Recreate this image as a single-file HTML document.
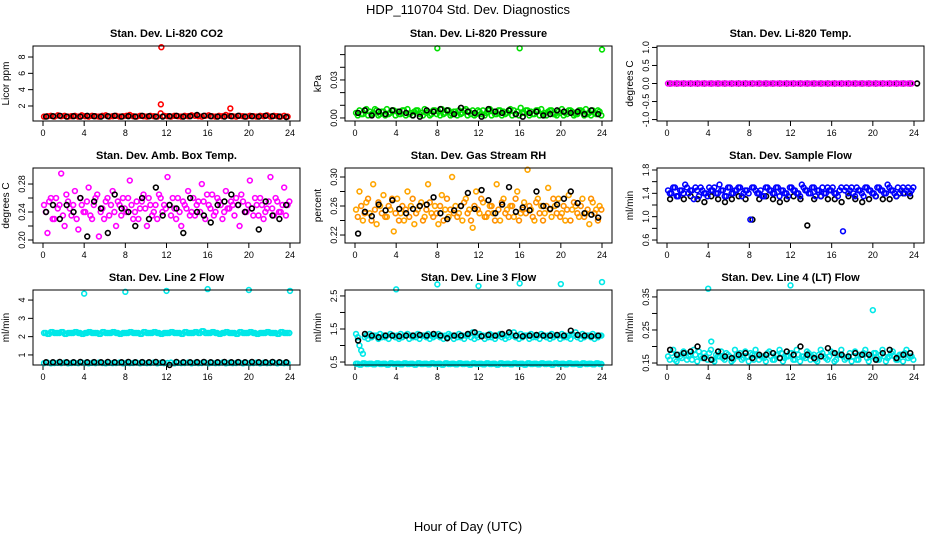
<!DOCTYPE html>
<html><head><meta charset="utf-8"><style>
html,body{margin:0;padding:0;background:#fff}
svg{display:block;font-family:"Liberation Sans",sans-serif}
</style></head><body>
<svg id="c" width="936" height="540" xmlns="http://www.w3.org/2000/svg">
<text x="468" y="14" text-anchor="middle" font-size="13">HDP_110704  Std. Dev. Diagnostics</text>
<text x="468" y="531" text-anchor="middle" font-size="13">Hour of Day (UTC)</text>
</svg>
<script>
const co2Color = [0.7,0.75,0.8,0.7,0.85,0.75,0.8,0.7,0.75,0.8,0.7,0.85,0.75,0.7,0.8,0.75,0.7,0.8,0.85,0.7,0.75,0.8,0.7,0.75,0.8,0.9,0.75,0.7,0.8,0.75,0.7,0.8,0.75,0.7,1.1,0.8,0.75,0.7,0.8,0.75,0.7,0.8,0.75,0.85,0.8,0.75,0.7,0.8,0.85,0.75,0.7,0.8,0.75,0.9,0.8,0.75,0.7,0.8,0.75,0.7,0.8,0.75,0.7,0.8,0.75,0.85,0.7,0.8,0.75,0.7,0.8,0.7];
const co2Black = [0.7,0.75,0.8,0.7,0.75,0.7,0.8,0.75,0.7,0.75,0.8,0.7,0.75,0.7,0.8,0.75,0.7,0.7,0.75,0.8,0.7,0.75,0.9,0.8,0.75,0.7,0.7,0.75,0.8,0.7,0.75,0.7,0.8,0.75,0.7,0.65];
const co2OutX = [11.5,11.45,18.2];
const co2OutY = [9.2,2.2,1.7];
const presColor = [0.004,0.006,0.003,0.007,0.005,0.004,0.006,0.003,0.005,0.007,0.004,0.006,0.005,0.003,0.006,0.007,0.004,0.005,0.006,0.004,0.007,0.005,0.003,0.006,0.005,0.007,0.004,0.006,0.003,0.005,0.006,0.004,0.007,0.005,0.006,0.003,0.005,0.006,0.004,0.007,0.005,0.003,0.006,0.005,0.004,0.007,0.006,0.005,0.008,0.004,0.006,0.005,0.003,0.006,0.007,0.004,0.005,0.006,0.003,0.005,0.007,0.004,0.006,0.005,0.003,0.006,0.005,0.007,0.004,0.006,0.003,0.005];
const presColor2 = [0.002,0.003,0.006,0.002,0.003,0.007,0.002,0.005,0.002,0.003,0.006,0.002,0.003,0.006,0.002,0.003,0.002,0.006,0.003,0.002,0.004,0.002,0.006,0.003,0.002,0.003,0.006,0.002,0.005,0.002,0.003,0.006,0.002,0.003,0.002,0.006,0.003,0.002,0.006,0.002,0.003,0.006,0.002,0.003,0.006,0.002,0.003,0.002,0.004,0.006,0.002,0.003,0.006,0.002,0.003,0.002,0.006,0.003,0.002,0.004,0.002,0.003,0.006,0.002,0.003,0.006,0.002,0.003,0.002,0.004,0.006,0.002];
const presBlack = [0.004,0.006,0.002,0.005,0.003,0.006,0.005,0.004,0.002,0.001,0.006,0.005,0.007,0.006,0.003,0.008,0.005,0.004,0.001,0.007,0.005,0.004,0.006,0.003,0.001,0.004,0.005,0.002,0.003,0.006,0.005,0.004,0.005,0.003,0.006,0.003];
const presOutX = [8,16,24];
const presOutY = [0.055,0.055,0.054];
const tempColor = [0,0,0,0,0,0,0,0,0,0,0,0,0,0,0,0,0,0,0,0,0,0,0,0,0,0,0,0,0,0,0,0,0,0,0,0,0,0,0,0,0,0,0,0,0,0,0,0,0,0,0,0,0,0,0,0,0,0,0,0,0,0,0,0,0,0,0,0,0,0,0,0];
const tempBlack = [0,0,0,0,0,0,0,0,0,0,0,0,0,0,0,0,0,0,0,0,0,0,0,0,0,0,0,0,0,0,0,0,0,0,0,0,0];
const boxColor = [0.25,0.21,0.26,0.23,0.245,0.295,0.22,0.255,0.235,0.27,0.215,0.25,0.24,0.275,0.23,0.26,0.205,0.245,0.255,0.235,0.27,0.22,0.25,0.26,0.24,0.285,0.23,0.255,0.245,0.265,0.22,0.25,0.24,0.23,0.26,0.25,0.29,0.235,0.245,0.26,0.22,0.25,0.27,0.24,0.235,0.255,0.28,0.23,0.25,0.265,0.24,0.255,0.23,0.27,0.245,0.25,0.26,0.22,0.255,0.24,0.285,0.235,0.25,0.26,0.23,0.245,0.29,0.235,0.255,0.24,0.275,0.25];
const boxColor2 = [0.24,0.255,0.23,0.26,0.25,0.235,0.265,0.245,0.25,0.23,0.26,0.24,0.255,0.235,0.25,0.265,0.24,0.23,0.26,0.25,0.24,0.255,0.235,0.245,0.26,0.25,0.24,0.23,0.255,0.245,0.26,0.235,0.25,0.265,0.24,0.245,0.25,0.26,0.23,0.24,0.255,0.245,0.235,0.26,0.25,0.24,0.255,0.265,0.245,0.235,0.26,0.25,0.24,0.245,0.255,0.235,0.25,0.265,0.24,0.25,0.245,0.26,0.235,0.25,0.24,0.255,0.245,0.26,0.24,0.25,0.235,0.255];
const boxBlack = [0.24,0.25,0.23,0.25,0.24,0.26,0.205,0.255,0.245,0.21,0.265,0.245,0.24,0.22,0.26,0.23,0.275,0.235,0.25,0.245,0.21,0.26,0.24,0.235,0.225,0.25,0.255,0.265,0.25,0.24,0.245,0.215,0.255,0.235,0.23,0.25];
const rhColor = [0.255,0.28,0.24,0.265,0.25,0.29,0.235,0.26,0.275,0.245,0.255,0.225,0.27,0.25,0.24,0.28,0.26,0.235,0.255,0.265,0.245,0.29,0.25,0.26,0.235,0.275,0.255,0.245,0.3,0.26,0.25,0.24,0.27,0.255,0.23,0.28,0.25,0.265,0.245,0.26,0.25,0.29,0.24,0.27,0.255,0.26,0.245,0.28,0.25,0.265,0.31,0.255,0.24,0.27,0.26,0.25,0.285,0.245,0.26,0.27,0.25,0.24,0.275,0.255,0.26,0.245,0.27,0.25,0.235,0.265,0.255,0.26];
const rhColor2 = [0.245,0.26,0.25,0.27,0.24,0.255,0.265,0.25,0.245,0.26,0.27,0.25,0.24,0.26,0.255,0.245,0.27,0.25,0.26,0.24,0.255,0.265,0.245,0.25,0.26,0.24,0.27,0.255,0.25,0.245,0.26,0.265,0.25,0.24,0.26,0.255,0.27,0.245,0.25,0.26,0.24,0.255,0.265,0.25,0.245,0.26,0.27,0.24,0.255,0.25,0.26,0.245,0.265,0.25,0.24,0.26,0.255,0.27,0.25,0.245,0.26,0.255,0.24,0.265,0.25,0.26,0.245,0.255,0.27,0.25,0.24,0.255];
const rhBlack = [0.222,0.252,0.246,0.262,0.254,0.268,0.256,0.25,0.256,0.26,0.262,0.272,0.25,0.242,0.254,0.26,0.278,0.256,0.282,0.268,0.25,0.262,0.286,0.252,0.258,0.254,0.28,0.26,0.256,0.262,0.27,0.28,0.264,0.25,0.248,0.244];
const flowColor = [1.45,1.4,1.5,1.35,1.45,1.55,1.4,1.45,1.5,1.35,1.45,1.4,1.5,1.45,1.4,1.55,1.45,1.35,1.5,1.4,1.45,1.5,1.4,1.45,0.95,1.5,1.4,1.45,1.35,1.5,1.45,1.4,1.5,1.45,1.4,1.35,1.5,1.45,1.4,1.55,1.45,1.4,1.5,1.35,1.45,1.5,1.4,1.45,1.5,1.4,1.45,0.75,1.5,1.45,1.4,1.5,1.45,1.35,1.5,1.45,1.4,1.5,1.45,1.4,1.55,1.45,1.4,1.5,1.45,1.4,1.5,1.45];
const flowColor2 = [1.4,1.5,1.35,1.45,1.4,1.5,1.45,1.3,1.45,1.5,1.4,1.35,1.45,1.5,1.4,1.45,1.35,1.5,1.4,1.45,1.5,1.35,1.45,1.4,1.5,1.45,1.4,1.35,1.5,1.45,1.4,1.5,1.35,1.45,1.4,1.5,1.45,1.4,1.35,1.5,1.45,1.4,1.5,1.45,1.35,1.4,1.5,1.45,1.4,1.35,1.5,1.45,1.4,1.5,1.35,1.45,1.4,1.5,1.45,1.4,1.35,1.5,1.45,1.4,1.5,1.45,1.35,1.4,1.5,1.45,1.4,1.5];
const flowBlack = [1.3,1.35,1.3,1.35,1.3,1.25,1.35,1.3,1.25,1.3,1.35,1.3,0.95,1.3,1.35,1.3,1.25,1.3,1.35,1.3,0.85,1.3,1.35,1.3,1.3,1.25,1.35,1.3,1.25,1.3,1.35,1.3,1.3,1.35,1.4,1.35];
const l2Upper = [2.2,2.15,2.25,2.2,2.2,2.25,2.15,2.2,2.2,2.25,2.2,2.15,2.2,2.25,2.2,2.2,2.15,2.25,2.2,2.2,2.25,2.2,2.15,2.2,2.2,2.25,2.2,2.2,2.15,2.25,2.2,2.2,2.25,2.2,2.15,2.2,2.2,2.25,2.2,2.2,2.15,2.25,2.2,2.2,2.25,2.2,2.3,2.2,2.2,2.25,2.2,2.15,2.2,2.25,2.2,2.2,2.15,2.25,2.2,2.2,2.25,2.2,2.15,2.2,2.2,2.25,2.2,2.2,2.15,2.25,2.2,2.2];
const l2Lower = [0.55,0.58,0.54,0.56,0.57,0.55,0.58,0.54,0.56,0.57,0.55,0.58,0.56,0.54,0.57,0.55,0.58,0.56,0.54,0.57,0.55,0.56,0.58,0.54,0.57,0.55,0.56,0.58,0.54,0.57,0.55,0.56,0.58,0.54,0.57,0.55,0.56,0.58,0.54,0.57,0.55,0.56,0.58,0.54,0.57,0.55,0.56,0.58,0.54,0.57,0.55,0.56,0.58,0.54,0.57,0.55,0.56,0.58,0.54,0.57,0.55,0.56,0.58,0.54,0.57,0.55,0.56,0.58,0.54,0.57,0.55,0.56];
const l2Black = [0.6,0.6,0.62,0.6,0.6,0.62,0.6,0.61,0.6,0.62,0.6,0.6,0.62,0.6,0.61,0.6,0.62,0.6,0.45,0.62,0.6,0.6,0.61,0.62,0.6,0.6,0.62,0.6,0.61,0.6,0.62,0.6,0.6,0.62,0.6,0.6];
const l2OutX = [4,8,12,16,20,24];
const l2OutY = [4.35,4.45,4.5,4.6,4.55,4.5];
const l3Upper = [1.35,1.0,0.75,1.3,1.35,1.3,1.3,1.35,1.3,1.3,1.35,1.3,1.3,1.35,1.3,1.35,1.3,1.3,1.35,1.3,1.3,1.35,1.3,1.3,1.35,1.3,1.3,1.35,1.3,1.3,1.35,1.3,1.3,1.35,1.4,1.3,1.35,1.3,1.3,1.35,1.3,1.3,1.35,1.3,1.3,1.35,1.4,1.3,1.35,1.3,1.3,1.35,1.3,1.3,1.35,1.3,1.3,1.35,1.3,1.3,1.35,1.3,1.3,1.35,1.4,1.3,1.35,1.3,1.3,1.35,1.3,1.3];
const l3Upper2 = [1.25,0.85,1.25,1.2,1.25,1.3,1.2,1.25,1.25,1.2,1.3,1.25,1.2,1.25,1.3,1.2,1.25,1.25,1.2,1.3,1.25,1.2,1.25,1.3,1.25,1.2,1.25,1.3,1.2,1.25,1.25,1.2,1.3,1.25,1.2,1.25,1.3,1.2,1.25,1.25,1.2,1.3,1.25,1.2,1.25,1.3,1.25,1.2,1.25,1.3,1.2,1.25,1.25,1.2,1.3,1.25,1.2,1.25,1.3,1.2,1.25,1.25,1.2,1.3,1.25,1.2,1.25,1.3,1.25,1.2,1.25,1.3];
const l3Lower = [0.45,0.42,0.46,0.44,0.45,0.43,0.46,0.44,0.45,0.42,0.46,0.44,0.45,0.43,0.46,0.44,0.45,0.42,0.46,0.44,0.45,0.43,0.46,0.44,0.45,0.42,0.46,0.44,0.45,0.43,0.46,0.44,0.45,0.42,0.46,0.44,0.45,0.43,0.46,0.44,0.45,0.42,0.46,0.44,0.45,0.43,0.46,0.44,0.45,0.42,0.46,0.44,0.45,0.43,0.46,0.44,0.45,0.42,0.46,0.44,0.45,0.43,0.46,0.44,0.45,0.42,0.46,0.44,0.45,0.43,0.46,0.44];
const l3Black = [1.15,1.35,1.3,1.25,1.3,1.3,1.28,1.3,1.3,1.32,1.3,1.35,1.3,1.22,1.3,1.3,1.35,1.4,1.28,1.32,1.3,1.35,1.4,1.3,1.28,1.3,1.32,1.3,1.3,1.32,1.3,1.45,1.32,1.3,1.28,1.3];
const l3OutX = [4,8,12,16,20,24];
const l3OutY = [2.7,2.85,2.8,2.88,2.86,2.92];
const l4Color = [0.17,0.18,0.16,0.175,0.165,0.18,0.17,0.16,0.175,0.185,0.165,0.17,0.18,0.16,0.175,0.17,0.165,0.18,0.17,0.16,0.175,0.18,0.165,0.17,0.18,0.16,0.175,0.17,0.165,0.18,0.17,0.16,0.175,0.18,0.165,0.17,0.18,0.16,0.175,0.17,0.165,0.18,0.17,0.16,0.175,0.18,0.165,0.17,0.18,0.16,0.175,0.17,0.165,0.18,0.17,0.16,0.175,0.18,0.165,0.17,0.18,0.16,0.175,0.17,0.165,0.18,0.17,0.16,0.175,0.18,0.165,0.17];
const l4Color2 = [0.16,0.19,0.155,0.17,0.185,0.16,0.175,0.19,0.155,0.17,0.18,0.16,0.19,0.155,0.17,0.185,0.16,0.175,0.155,0.19,0.17,0.16,0.185,0.155,0.175,0.19,0.16,0.17,0.155,0.185,0.16,0.175,0.19,0.155,0.17,0.18,0.16,0.19,0.155,0.17,0.185,0.16,0.175,0.155,0.19,0.17,0.16,0.185,0.155,0.175,0.19,0.16,0.17,0.155,0.185,0.16,0.175,0.19,0.155,0.17,0.18,0.16,0.19,0.155,0.17,0.185,0.16,0.175,0.155,0.19,0.17,0.16];
const l4Black = [0.19,0.175,0.18,0.185,0.2,0.165,0.16,0.185,0.17,0.165,0.175,0.18,0.165,0.175,0.175,0.18,0.165,0.185,0.175,0.2,0.175,0.165,0.17,0.195,0.18,0.175,0.17,0.18,0.175,0.175,0.16,0.18,0.19,0.165,0.175,0.18];
const l4OutX = [4,12,20,4.3];
const l4OutY = [0.375,0.385,0.31,0.215];
const xTicks = [0,4,8,12,16,20,24];

const svg = document.getElementById('c');
const NS = 'http://www.w3.org/2000/svg';
function mk(tag, attrs){const e=document.createElementNS(NS,tag);for(const k in attrs)e.setAttribute(k,attrs[k]);svg.appendChild(e);return e;}
const colL = [33,345,657], rowT = [46,168,290], W = 267, H = 75;
function hoursOf(arr, step, off){return arr.map((_,i)=>off+i*step);}

const panels = [
 {t:'Stan. Dev. Li-820 CO2',yl:'Licor ppm',y0:0.16,y1:9.35,ticks:[2,4,6,8],labs:['2','4','6','8'],series:[[co2Color,'#ff0000'],[co2Black,'#000'],[co2OutY,'#ff0000',co2OutX]]},
 {t:'Stan. Dev. Li-820 Pressure',yl:'kPa',y0:-0.0024,y1:0.0568,ticks:[0,0.01,0.02,0.03,0.04,0.05],labs:['0.00','','','0.03','',''],series:[[presColor,'#00e000'],[presColor2,'#00e000',null,0.27],[presBlack,'#000'],[presOutY,'#00e000',presOutX]]},
 {t:'Stan. Dev. Li-820 Temp.',yl:'degrees C',y0:-1.04,y1:1.04,ticks:[-1,-0.5,0,0.5,1],labs:['-1.0','-0.5','0.0','0.5','1.0'],series:[[tempBlack,'#000'],[tempColor,'#ff00ff']]},
 {t:'Stan. Dev. Amb. Box Temp.',yl:'degrees C',y0:0.1957,y1:0.3029,ticks:[0.2,0.22,0.24,0.26,0.28],labs:['0.20','','0.24','','0.28'],series:[[boxColor,'#ff00ff'],[boxColor2,'#ff00ff',null,0.27],[boxBlack,'#000']]},
 {t:'Stan. Dev. Gas Stream RH',yl:'percent',y0:0.209,y1:0.3124,ticks:[0.22,0.24,0.26,0.28,0.30],labs:['0.22','','0.26','','0.30'],series:[[rhColor,'#ffa500'],[rhColor2,'#ff9000',null,0.27],[rhBlack,'#000']]},
 {t:'Stan. Dev. Sample Flow',yl:'ml/min',y0:0.549,y1:1.834,ticks:[0.6,0.8,1.0,1.2,1.4,1.6,1.8],labs:['0.6','','1.0','','1.4','','1.8'],series:[[flowBlack,'#000'],[flowColor,'#0000ff'],[flowColor2,'#0000ff',null,0.27]]},
 {t:'Stan. Dev. Line 2 Flow',yl:'ml/min',y0:0.45,y1:4.55,ticks:[1,2,3,4],labs:['1','2','3','4'],series:[[l2Upper,'#00e8e8'],[l2Upper,'#00e8e8',null,0.27],[l2Lower,'#00e8e8'],[l2Black,'#000'],[l2OutY,'#00e8e8',l2OutX]]},
 {t:'Stan. Dev. Line 3 Flow',yl:'ml/min',y0:0.41,y1:2.68,ticks:[0.5,1,1.5,2,2.5],labs:['0.5','','1.5','','2.5'],series:[[l3Upper,'#00e8e8'],[l3Upper2,'#00e8e8',null,0.27],[l3Lower,'#00e8e8'],[l3Lower,'#00e8e8',null,0.27],[l3Black,'#000'],[l3OutY,'#00e8e8',l3OutX]]},
 {t:'Stan. Dev. Line 4 (LT) Flow',yl:'ml/min',y0:0.144,y1:0.371,ticks:[0.15,0.2,0.25,0.3,0.35],labs:['0.15','','0.25','','0.35'],series:[[l4Color,'#00e8e8'],[l4Color2,'#00e8e8',null,0.27],[l4Black,'#000'],[l4OutY,'#00e8e8',l4OutX]]}
];

panels.forEach((p,pi)=>{
  const L = colL[pi%3], T = rowT[Math.floor(pi/3)];
  const xs = h => L + 10 + h*(W-20)/24;
  const ys = v => T + H - (v-p.y0)/(p.y1-p.y0)*H;
  const g = mk('g',{});
  
  
  const tt = mk('text',{x:L+W/2,y:T-9,'text-anchor':'middle','font-size':'11','font-weight':'bold'});
  tt.textContent = p.t;
  
  
  const yt = mk('text',{x:0,y:0,'text-anchor':'middle','font-size':'10',transform:`translate(${L-24},${T+H/2}) rotate(-90)`});
  yt.textContent = p.yl;
  
  
  xTicks.forEach(h=>{
    const x = xs(h);
    const tk = mk('line',{x1:x,y1:T+H,x2:x,y2:T+H+5,stroke:'#000','stroke-width':1});
    
    
    const tl = mk('text',{x:x,y:T+H+15,'text-anchor':'middle','font-size':'9'});
    tl.textContent = h;
    
    
  });
  p.ticks.forEach((v,i)=>{
    const y = ys(v);
    const tk = mk('line',{x1:L-5,y1:y,x2:L,y2:y,stroke:'#000','stroke-width':1});
    
    
    if(p.labs[i]){
      const tl = mk('text',{x:0,y:0,'text-anchor':'middle','font-size':'9',transform:`translate(${L-8},${y}) rotate(-90)`});
      tl.textContent = p.labs[i];
      
      
    }
  });
  p.series.forEach(s=>{
    const vals = s[0], col = s[1];
    const off = s[3] || 0.1;
    const hrs = s[2] ? s[2] : (vals.length>40 ? hoursOf(vals,1/3,off) : hoursOf(vals,2/3,0.3));
    vals.forEach((v,i)=>{
      const c = mk('circle',{cx:xs(hrs[i]),cy:ys(v),r:2.4,fill:'none',stroke:col,'stroke-width':1.6});
      
      
    });
  });
  const box = mk('rect',{x:L,y:T,width:W,height:H,fill:'none',stroke:'#000','stroke-width':1});
  
  
});
</script>
</body></html>
